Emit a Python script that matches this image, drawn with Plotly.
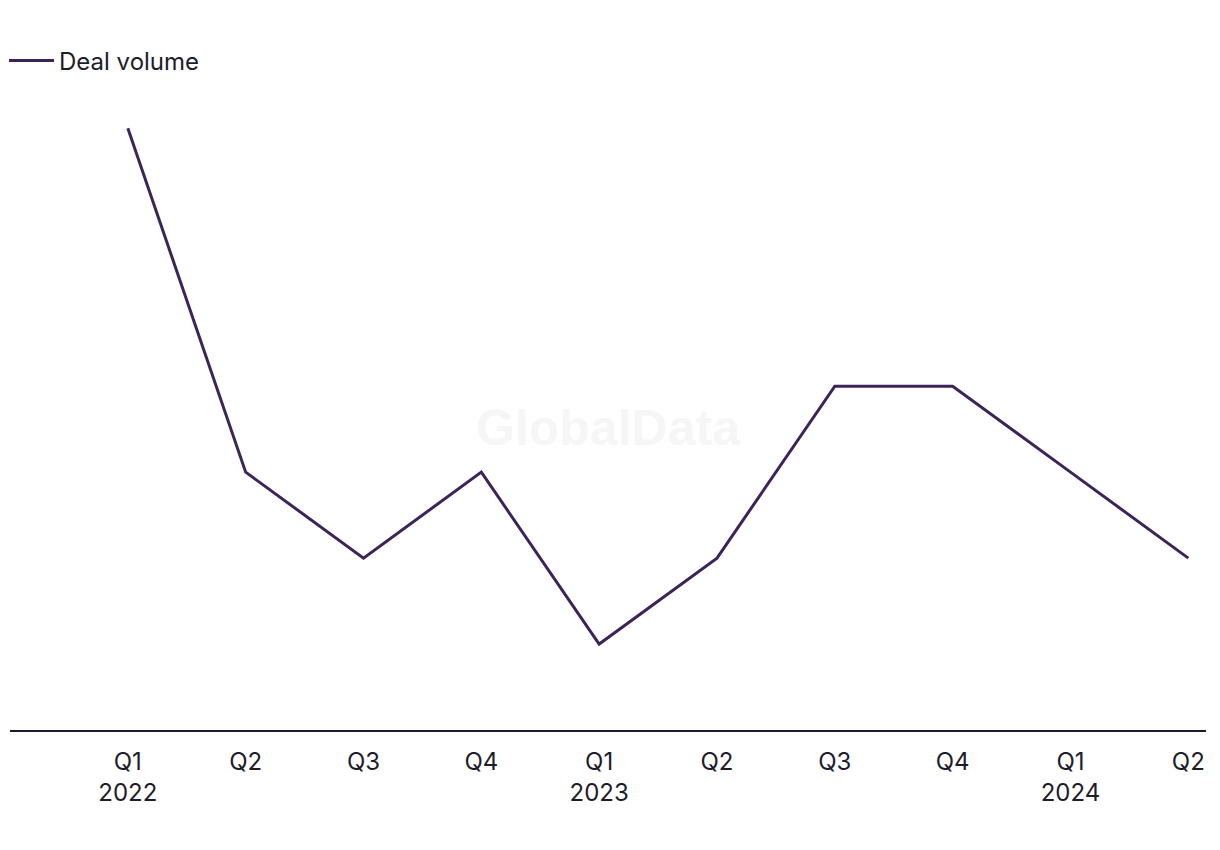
import plotly.graph_objects as go

quarters = ["Q1<br>2022", "Q2", "Q3", "Q4", "Q1<br>2023", "Q2", "Q3", "Q4", "Q1<br>2024", "Q2"]
deal_volume = [7, 3, 2, 3, 1, 2, 4, 4, 3, 2]
series_name = "Deal volume"

x_idx = list(range(len(quarters)))

fig = go.Figure()
fig.add_trace(go.Scatter(
    x=x_idx, y=deal_volume, mode="lines", name=series_name,
    line=dict(color="#3b2558", width=3),
    showlegend=True,
))

fig.update_layout(
    width=1220, height=850,
    margin=dict(l=2, r=22, t=92, b=128, autoexpand=False),
    paper_bgcolor="white", plot_bgcolor="white",
    font=dict(family="Inter, Roboto, sans-serif", size=24, color="#1c1c2b"),
    showlegend=True,
    legend=dict(x=-0.005, xanchor="left", y=1.062, yanchor="middle", yref="paper",
                orientation="h", font=dict(size=24), bgcolor="rgba(0,0,0,0)",
                itemwidth=45),
    xaxis=dict(
        tickmode="array", tickvals=x_idx, ticktext=quarters,
        range=[-1.0, 9.15], showgrid=False, zeroline=False,
        showline=True, linecolor="#1a1a2e", linewidth=2,
        ticks="", tickfont=dict(size=24, color="#1c1c2b"),
        ticklabelstandoff=9,
    ),
    yaxis=dict(range=[0, 7.33], showgrid=False, zeroline=False,
               showticklabels=False, showline=False),
    annotations=[dict(
        text="<b>GlobalData</b>", x=0.5, y=0.48, xref="paper", yref="paper",
        showarrow=False, font=dict(family="Liberation Sans, Arial, sans-serif", size=50, color="#f6f6f6"),
    )],
)

fig.write_html("out.html")
